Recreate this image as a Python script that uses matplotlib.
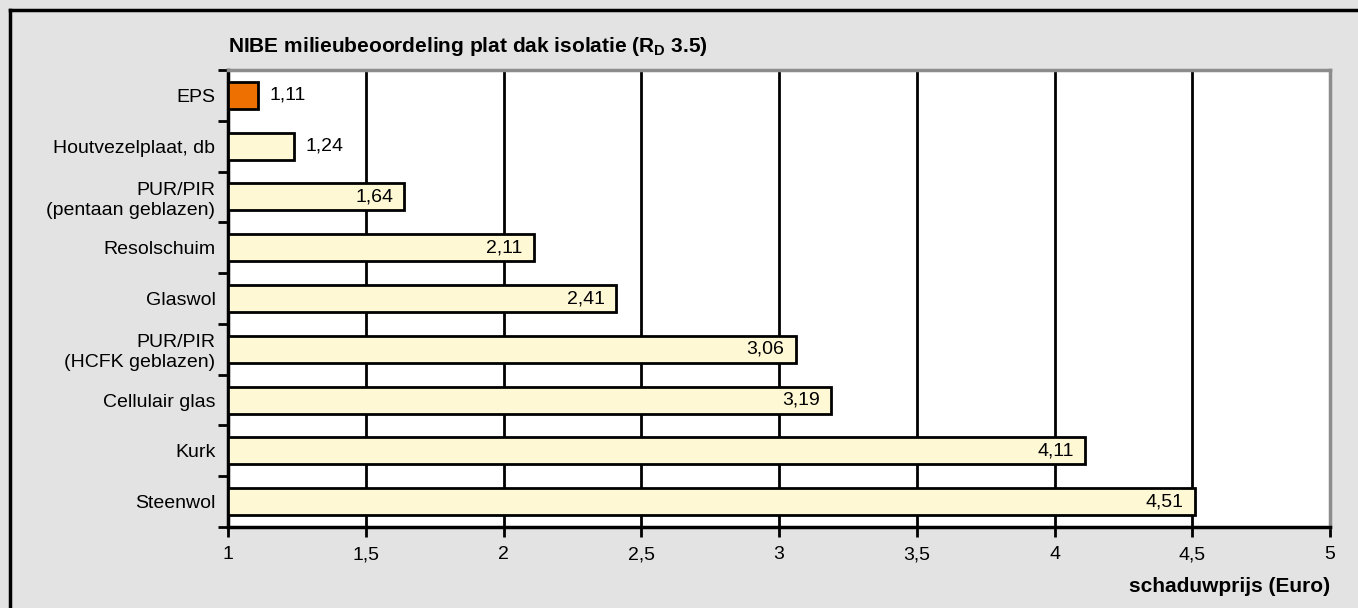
import numpy as np
import matplotlib.pyplot as plt
from matplotlib.lines import Line2D

plt.rcParams['font.family'] = ['Liberation Sans', 'DejaVu Sans']

categories = ['EPS', 'Houtvezelplaat, db', 'PUR/PIR\n(pentaan geblazen)', 'Resolschuim',
              'Glaswol', 'PUR/PIR\n(HCFK geblazen)', 'Cellulair glas', 'Kurk', 'Steenwol']
values = [1.11, 1.24, 1.64, 2.11, 2.41, 3.06, 3.19, 4.11, 4.51]
labels = ['1,11', '1,24', '1,64', '2,11', '2,41', '3,06', '3,19', '4,11', '4,51']
xticks = [1, 1.5, 2, 2.5, 3, 3.5, 4, 4.5, 5]
xticklabels = ['1', '1,5', '2', '2,5', '3', '3,5', '4', '4,5', '5']

bg = '#e3e3e3'
fs = 14
fig = plt.figure(figsize=(13.58, 6.08), dpi=100, facecolor=bg)
ax = fig.add_axes([228/1358, 1-527/608, 1102/1358, 457/608])
ax.set_facecolor('white')

y = np.arange(len(categories))
colors = ['#ee7000'] + ['#fff8d4'] * (len(categories) - 1)
ax.barh(y, np.array(values) - 1, left=1, height=0.53, color=colors,
        edgecolor='black', linewidth=2, zorder=3)

for yi, v, lab in zip(y, values, labels):
    if v < 1.4:
        ax.text(v + 0.04, yi, lab, ha='left', va='center', fontsize=fs, zorder=4)
    else:
        ax.text(v - 0.04, yi, lab, ha='right', va='center', fontsize=fs, zorder=4)

ax.set_xlim(1, 5)
ax.set_ylim(len(categories) - 0.5, -0.5)
ax.set_xticks(xticks)
ax.set_xticklabels(xticklabels, fontsize=fs)
ax.set_yticks(y)
ax.set_yticklabels(categories, fontsize=fs, linespacing=1.2)
ax.set_yticks(np.arange(-0.5, len(categories)), minor=True)
ax.tick_params(axis='y', which='major', length=0, pad=9)
ax.tick_params(axis='y', which='minor', length=7, width=2, direction='out', color='black')
ax.tick_params(axis='x', length=7, width=2, pad=7)

for xv in xticks[1:-1]:
    ax.axvline(xv, color='black', lw=2, zorder=1)

ax.spines['left'].set_linewidth(2.5)
ax.spines['bottom'].set_linewidth(2.5)
ax.spines['top'].set_color('#8c8c8c')
ax.spines['right'].set_color('#8c8c8c')
ax.spines['top'].set_linewidth(2.5)
ax.spines['right'].set_linewidth(2.5)

fig.text(228/1358, 1-47/608, r'NIBE milieubeoordeling plat dak isolatie (R$_\mathregular{D}$ 3.5)',
         fontsize=15, fontweight='bold', ha='left', va='center')
fig.text(1330/1358, 1-586/608, 'schaduwprijs (Euro)', fontsize=15, fontweight='bold',
         ha='right', va='center')

# outer frame (only top and left visible)
fig.add_artist(Line2D([10/1358, 1], [1-10/608, 1-10/608], color='black', lw=2.5,
                      transform=fig.transFigure))
fig.add_artist(Line2D([10/1358, 10/1358], [0, 1-10/608], color='black', lw=2.5,
                      transform=fig.transFigure))

fig.savefig('out.png', dpi=100, facecolor=bg)
